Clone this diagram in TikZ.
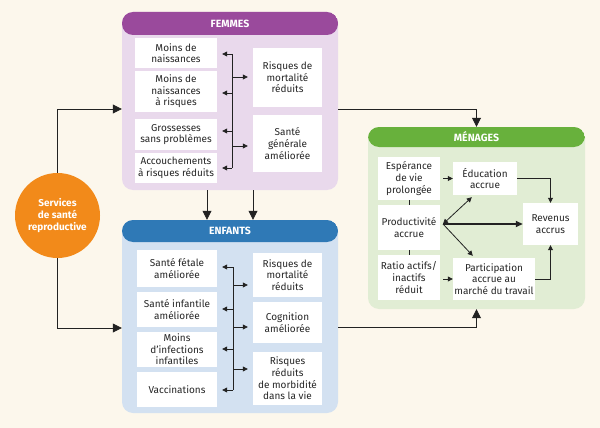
\documentclass[tikz,border=0pt]{standalone}
\usepackage{fontspec}
\setmainfont{Fira Sans}
\usetikzlibrary{arrows.meta,calc}
\definecolor{bg}{HTML}{FCF7EC}
\definecolor{femH}{HTML}{9A4A9C}
\definecolor{femB}{HTML}{E9D9EC}
\definecolor{enfH}{HTML}{2F79B6}
\definecolor{enfB}{HTML}{D3E1F1}
\definecolor{menH}{HTML}{68B13C}
\definecolor{menB}{HTML}{E1EDD4}
\definecolor{svcO}{HTML}{F28A1A}
\definecolor{ln}{HTML}{222222}
\tikzset{
  panel/.style n args={3}{rounded corners=11pt, inner sep=0pt, fill=#1,
    path picture={\fill[#2] (path picture bounding box.north west) rectangle ([yshift=-#3]path picture bounding box.north east);}},
  hdr/.style={text=white, font=\fontsize{10.5}{12}\selectfont\bfseries, inner sep=0pt},
  ibox/.style={fill=white, align=center, inner sep=0pt, text=black!85, font=\fontsize{10}{11.6}\selectfont},
  bus/.style={draw=ln, line width=0.8pt},
  iarr/.style={draw=ln, line width=0.8pt, -{Triangle[length=5pt,width=5pt]}},
  oarr/.style={draw=ln, line width=0.8pt, -{Triangle[length=9pt,width=9pt]}},
}
\begin{document}
\begin{tikzpicture}[x=1pt,y=-1pt]
\fill[bg] (0,0) rectangle (600,428);
\useasboundingbox (0,0) rectangle (600,428);

% panels
\node[panel={femB}{femH}{23pt}, minimum width=216pt, minimum height=178pt] (fem) at (230,101) {};
\node[hdr] (femT) at (230,23.5) {FEMMES};
\node[panel={enfB}{enfH}{22pt}, minimum width=216pt, minimum height=193pt] (enf) at (230,316.5) {};
\node[hdr] (enfT) at (230,231) {ENFANTS};
\node[panel={menB}{menH}{20pt}, minimum width=217pt, minimum height=182pt] (men) at (476.5,218) {};
\node[hdr] (menT) at (476.5,137) {MÉNAGES};

% circle
\node[circle, fill=svcO, minimum size=85pt, inner sep=0pt, align=center, text=white,
  font=\fontsize{10}{12}\selectfont\bfseries] (svc) at (57.5,215.5) {Services\\de santé\\reproductive};

% FEMMES inner
\node[ibox, minimum width=82pt, minimum height=30pt] (f1) at (176,53) {Moins de\\naissances};
\node[ibox, minimum width=82pt, minimum height=41pt] (f2) at (176,91.5) {Moins de\\naissances\\à risques};
\node[ibox, minimum width=82pt, minimum height=31pt] (f3) at (176,134.5) {Grossesses\\sans problèmes};
\node[ibox, minimum width=82pt, minimum height=30pt] (f4) at (176,168) {Accouchements\\à risques réduits};
\node[ibox, minimum width=69pt, minimum height=59pt] (f5) at (287.5,77.5) {Risques de\\mortalité\\réduits};
\node[ibox, minimum width=69pt, minimum height=57pt] (f6) at (287.5,143.5) {Santé\\générale\\améliorée};

\coordinate (fbT) at (232,54);
\coordinate (fbB) at (232,168);
\draw[bus] (fbT) -- (fbB);
\foreach \n/\y in {f1/54,f2/93,f3/131,f4/168}
  \draw[iarr, shorten >=5pt] (fbT |- 0,\y) -- (\n.east |- 0,\y);
\foreach \n/\y in {f5/77,f6/146}
  \draw[iarr, shorten >=5pt] (fbT |- 0,\y) -- (\n.west |- 0,\y);

% ENFANTS inner
\node[ibox, minimum width=80pt, minimum height=37pt] (e1) at (177,268.5) {Santé fétale\\améliorée};
\node[ibox, minimum width=80pt, minimum height=35pt] (e2) at (177,309.5) {Santé infantile\\améliorée};
\node[ibox, minimum width=80pt, minimum height=35pt] (e3) at (177,349.5) {Moins\\d’infections\\infantiles};
\node[ibox, minimum width=80pt, minimum height=35pt] (e4) at (177,389.5) {Vaccinations};
\node[ibox, minimum width=69pt, minimum height=44pt] (e5) at (287.5,275) {Risques de\\mortalité\\réduits};
\node[ibox, minimum width=69pt, minimum height=41pt] (e6) at (287.5,322.5) {Cognition\\améliorée};
\node[ibox, minimum width=69pt, minimum height=53pt] (e7) at (287.5,378.5) {Risques\\réduits\\de morbidité\\dans la vie};

\coordinate (ebT) at (233,267);
\coordinate (ebB) at (233,390);
\draw[bus] (ebT) -- (ebB);
\foreach \n/\y in {e1/267,e2/309,e3/349,e4/390}
  \draw[iarr, shorten >=5pt] (ebT |- 0,\y) -- (\n.east |- 0,\y);
\foreach \n/\y in {e5/285,e6/327,e7/369}
  \draw[iarr, shorten >=5pt] (ebT |- 0,\y) -- (\n.west |- 0,\y);

% MENAGES inner
\node[ibox, minimum width=62pt, minimum height=43pt] (m1) at (409,178.5) {Espérance\\de vie\\prolongée};
\node[ibox, minimum width=62pt, minimum height=45pt] (m2) at (409,227.5) {Productivité\\accrue};
\node[ibox, minimum width=62pt, minimum height=45pt] (m3) at (409,277.5) {Ratio actifs/\\inactifs\\réduit};
\node[ibox, minimum width=64pt, minimum height=33pt] (m4) at (485,178.5) {Éducation\\accrue};
\node[ibox, minimum width=55pt, minimum height=42pt] (m5) at (550.5,224) {Revenus\\accrus};
\node[ibox, minimum width=82pt, minimum height=42pt] (m6) at (494,279) {Participation\\accrue au\\marché du travail};

\draw[bus] (m1.south) -- (m2.north);
\draw[bus] (m2.south) -- (m3.north);
\draw[iarr, shorten <=3pt] (m1.east) -- (m4.west);
\draw[iarr, shorten <=3pt] (m3.east |- m6.west) -- (m6.west);
\coordinate (pj) at (443,224);
\draw[iarr, {Triangle[length=5pt,width=5pt]}-{Triangle[length=5pt,width=5pt]}] (pj) -- ([xshift=19pt,yshift=-2pt]m4.south west);
\draw[iarr] (pj) -- ([xshift=20pt,yshift=2pt]m6.north west);
\draw[draw=ln, line width=1.8pt, -{Triangle[length=7pt,width=6pt]}] (pj) -- (m5.west);
\draw[iarr] (m4.east) -| (m5.north);
\draw[iarr] (m6.east) -| (m5.south);

% outer connectors
\draw[oarr] (svc.north) |- ([yshift=-8pt]fem.west);
\draw[oarr] (svc.south) |- ([yshift=-11.5pt]enf.west);
\draw[oarr] ([xshift=-23pt]fem.south) -- ([xshift=-23pt]enf.north);
\draw[oarr] ([xshift=23pt]fem.south) -- ([xshift=23pt]enf.north);
\draw[oarr] ([yshift=-8pt]fem.east) -| (men.north);
\draw[oarr] ([yshift=-10.5pt]enf.east) -| (men.south);
\end{tikzpicture}
\end{document}
